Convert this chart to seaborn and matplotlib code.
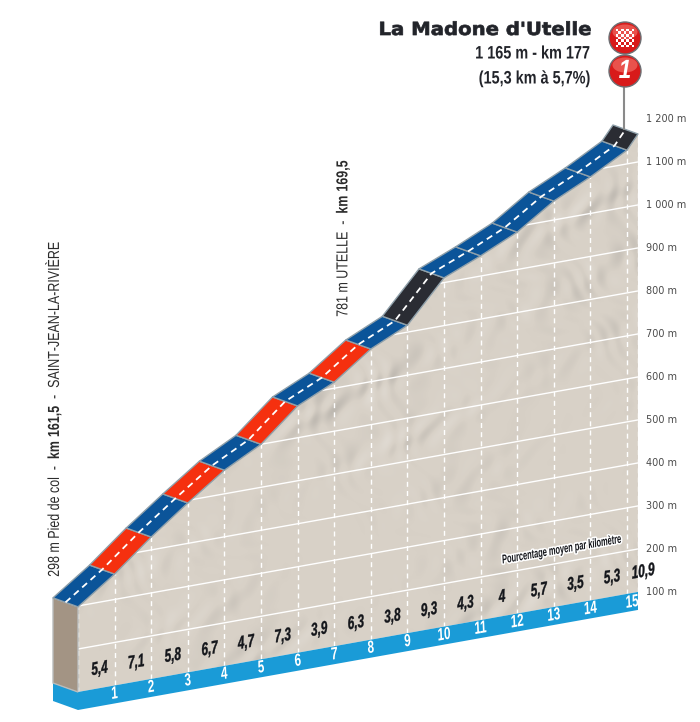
import numpy as np
import pandas as pd
import matplotlib
matplotlib.use("Agg")
import matplotlib.pyplot as plt
import matplotlib.patheffects as pe
from matplotlib.patches import Polygon, Circle, Rectangle, Ellipse
from matplotlib.transforms import Affine2D
import seaborn as sns

km_marks = [0, 1, 2, 3, 4, 5, 6, 7, 8, 9, 10, 11, 12, 13, 14, 15, 15.3]
altitudes = [298, 359, 430, 494, 555, 600, 674, 714, 776, 816, 911, 947, 987, 1044, 1085, 1132, 1165]
gradients = [5.4, 7.1, 5.8, 6.7, 4.7, 7.3, 3.9, 6.3, 3.8, 9.3, 4.3, 4, 5.7, 3.5, 5.3, 10.9]
gradient_labels = ["5,4", "7,1", "5,8", "6,7", "4,7", "7,3", "3,9", "6,3", "3,8", "9,3", "4,3", "4", "5,7", "3,5", "5,3", "10,9"]
km_labels = list(range(1, 16))
alt_ticks = [100, 200, 300, 400, 500, 600, 700, 800, 900, 1000, 1100, 1200]
alt_tick_labels = ["100 m", "200 m", "300 m", "400 m", "500 m", "600 m", "700 m", "800 m", "900 m", "1 000 m", "1 100 m", "1 200 m"]

SANS = "Liberation Sans"
ROAD_BLUE = "#0b5499"
ROAD_RED = "#f5300f"
ROAD_BLACK = "#2a2c33"
EDGE = "#8fa0aa"
TERRAIN = "#d8d1c7"
BAND = "#1a9bd7"
DARK = "#14161b"


class Squeeze(pe.AbstractPathEffect):
    # resserre le texte sur sa ligne de base (pas de police etroite installee)
    def __init__(self, sx, anchor="center", halo=0, bold=0, skew=0):
        super().__init__()
        self.sx = sx
        self.anchor = anchor
        self.halo = halo
        self.bold = bold
        self.skew = skew

    def draw_path(self, renderer, gc, tpath, affine, rgbFace=None):
        x0, _, x1, _ = tpath.get_extents().extents
        a = {"left": x0, "right": x1, "center": (x0 + x1) / 2}[self.anchor]
        aff = (Affine2D().translate(-a, 0).scale(self.sx, 1).translate(a, 0)
               + Affine2D.from_values(1, 0, self.skew, 1, 0, 0) + affine)
        if self.halo:
            gc0 = renderer.new_gc()
            gc0.copy_properties(gc)
            gc0.set_linewidth(self.halo)
            gc0.set_foreground("white")
            renderer.draw_path(gc0, tpath, aff, (1, 1, 1))
            gc0.restore()
        if self.bold:
            gc.set_linewidth(self.bold)
            gc.set_foreground(rgbFace)
        renderer.draw_path(gc, tpath, aff, rgbFace)


def project(km, alt, depth=0.0):
    # perspective cavaliere du profil, en pixels
    km = np.asarray(km, dtype=float)
    alt = np.asarray(alt, dtype=float)
    x = 78 + 36.6 * km - 25 * depth
    y = 692 - 6.54 * km - 0.43 * (alt - 100) - 9 * depth
    return x, y


def road_color(g):
    if g >= 9:
        return ROAD_BLACK
    if g >= 6:
        return ROAD_RED
    return ROAD_BLUE


sns.set_style("white")
plt.rcParams["mathtext.fontset"] = "custom"
plt.rcParams["mathtext.rm"] = SANS
plt.rcParams["mathtext.bf"] = SANS + ":bold"
fig = plt.figure(figsize=(7, 7.22), dpi=100)
ax = fig.add_axes([0, 0, 1, 1])

# terrain
tx, ty = project(km_marks + [15.3, 0], altitudes + [100, 100])
terrain = Polygon(np.column_stack([tx, ty]), closed=True, fc=TERRAIN, ec="none", zorder=1)
ax.add_patch(terrain)

# relief ombre (texture decorative)
gx, gy = np.meshgrid(np.arange(50, 650, 1.0), np.arange(100, 720, 1.0))
wx = gx + 21 * np.sin(gy / 37 + 1.3) + 9 * np.sin(gy / 11.3 + gx / 23)
wy = gy + 17 * np.sin(gx / 41 + 0.4) + 8 * np.sin(gx / 13.1 - gy / 29)
relief = (np.sin(wx / 33 + wy / 71) + 0.8 * np.sin(wx / 17.3 - wy / 27.1)
          + 0.5 * np.sin(wx / 7.7 + wy / 11.9) + 0.3 * np.sin(wx / 4.3 - wy / 6.1))
envelope = 0.5 + 0.5 * np.sin(gx / 83 + 0.7) * np.sin(gy / 59 - gx / 211)
shade = (np.gradient(relief, axis=1) + 0.5 * np.gradient(relief, axis=0)) * envelope
shade = np.clip(shade / np.abs(shade).max(), -1, 1)
rgba = np.zeros(gx.shape + (4,))
rgba[..., :3] = np.where(shade[..., None] > 0, 1.0, 0.4)
rgba[..., 3] = np.abs(shade) * 0.24
img = ax.imshow(rgba, extent=(50, 650, 720, 100), zorder=1.1, interpolation="bilinear", aspect="auto")
img.set_clip_path(terrain)

# lignes d'altitude
rows = []
for a in alt_ticks[1:-1]:
    start = np.interp(a, altitudes, km_marks) if a > altitudes[0] else 0
    for k in (start, 15.3):
        x, y = project(k, a)
        rows.append({"line": a, "x": float(x), "y": float(y)})
grid = pd.DataFrame(rows)
sns.lineplot(data=grid, x="x", y="y", units="line", estimator=None, sort=False,
             color="white", lw=1.0, ax=ax, legend=False, zorder=2)

# reperes kilometriques
rows = []
for k, a in zip(km_marks, altitudes):
    x0, y0 = project(k, 100)
    x1, y1 = project(k, a)
    rows.append({"line": k, "x": float(x0), "y": float(y0)})
    rows.append({"line": k, "x": float(x1), "y": float(y1)})
ticks = pd.DataFrame(rows)
sns.lineplot(data=ticks, x="x", y="y", units="line", estimator=None, sort=False,
             color="white", lw=1.0, linestyle=(0, (3.6, 3)), ax=ax, legend=False, zorder=2.1)

# bande bleue des km
bx0, by0 = project([0, 15.3], [100, 100])
band_pts = [(53, 683), (bx0[0], by0[0]), (bx0[1], by0[1]), (bx0[1], by0[1] + 18),
            (bx0[0], by0[0] + 18), (53, 701)]
ax.add_patch(Polygon(band_pts, closed=True, fc=BAND, ec="none", zorder=3))

# mur de gauche
lx, ly = project(0, altitudes[0])
wall = [(lx - 25, ly - 9), (lx, ly), (bx0[0], by0[0]), (53, 683)]
ax.add_patch(Polygon(wall, closed=True, fc="#a39484", ec="#b9bcbc", lw=1, zorder=3))

# route
for i, g in enumerate(gradients):
    fx, fy = project(km_marks[i:i + 2], altitudes[i:i + 2])
    rx, ry = project(km_marks[i:i + 2], altitudes[i:i + 2], depth=1)
    pts = [(fx[0], fy[0]), (fx[1], fy[1]), (rx[1], ry[1]), (rx[0], ry[0])]
    ax.add_patch(Polygon(pts, closed=True, fc=road_color(g), ec=EDGE, lw=1.0, joinstyle="round", zorder=4))

cx, cy = project(km_marks, altitudes, depth=0.5)
sns.lineplot(x=cx, y=cy, sort=False, estimator=None, color="white", lw=1.3,
             linestyle=(0, (3.6, 2.6)), ax=ax, legend=False, zorder=5)

# pourcentages par km
for i, lab in enumerate(gradient_labels):
    k = km_marks[i] + 0.55 if i < 15 else 15.4
    x, y = project(k, 100)
    ax.text(x + 1, y - 19, lab, family=SANS, weight="bold", style="italic", fontsize=13,
            color=DARK, rotation=10, ha="center", va="center", rotation_mode="anchor", zorder=6,
            path_effects=[Squeeze(0.66, bold=0.25, skew=0.1)])

# numeros de km
for k in km_labels:
    x, y = project(k, 100)
    ax.text(x + (5 if k == 15 else 0), y + 8.5, str(k), family=SANS, weight="bold", style="italic", fontsize=12.5,
            color="white", rotation=10, ha="center", va="center", rotation_mode="anchor", zorder=6,
            path_effects=[Squeeze(0.68)])

ax.text(562, 550, "Pourcentage moyen par kilomètre", family=SANS, weight="bold", style="italic",
        fontsize=9, color=DARK, rotation=10, ha="center", va="center", rotation_mode="anchor", zorder=6,
        path_effects=[Squeeze(0.6, halo=2.2)])

# altitudes a droite
for a, lab in zip(alt_ticks, alt_tick_labels):
    x, y = project(15.3, a)
    ax.text(646, float(y), lab, fontsize=7, color="#4a4a4a", ha="left", va="center", zorder=6)

# textes du col
ax.text(590, 30, "La Madone d'Utelle", family="DejaVu Sans", weight="bold", fontsize=13,
        color="#22242a", ha="right", va="center", path_effects=[Squeeze(1.09, "right", bold=0.5)])
ax.text(590, 54, "1 165 m - km 177", family=SANS, weight="bold", fontsize=13,
        color="#22242a", ha="right", va="center", path_effects=[Squeeze(0.8, "right")])
ax.text(590, 79, "(15,3 km à 5,7%)", family=SANS, weight="bold", fontsize=13,
        color="#22242a", ha="right", va="center", path_effects=[Squeeze(0.8, "right")])

# textes verticaux
ax.text(53, 577, r"298 m Pied de col  -  $\mathbf{km\ 161{,}5}$  -  SAINT-JEAN-LA-RIVIÈRE", family=SANS,
        fontsize=11.5, color="#2c2c2c", rotation=90, ha="center", va="bottom", zorder=6,
        path_effects=[Squeeze(0.78, "left")])
ax.text(343, 317, r"781 m UTELLE  -  $\mathbf{km\ 169{,}5}$", family=SANS,
        fontsize=11.5, color="#2c2c2c", rotation=90, ha="center", va="bottom", zorder=6,
        path_effects=[Squeeze(0.78, "left")])

# pastilles
px, py = project(15.3, altitudes[-1], depth=0.5)
sns.lineplot(x=[624, 624], y=[87, float(py)], sort=False, estimator=None, color="#8a8a8a", lw=1.5,
             ax=ax, legend=False, zorder=7)
for cy_badge in (38, 71):
    ax.add_patch(Circle((625, cy_badge), 16, fc="#d81a1a", ec="#6d6f73", lw=1, zorder=8))
    ax.add_patch(Ellipse((625, cy_badge - 6), 25, 15, fc="#f0655e", ec="none", alpha=0.75, zorder=8.1))
for i in range(7):
    for j in range(7):
        if (i + j) % 2 == 0:
            ax.add_patch(Rectangle((615.5 + i * 2.7, 28.5 + j * 2.7), 2.7, 2.7, fc="white", ec="none", zorder=8.2))
ax.text(625, 71, "1", family=SANS, weight="bold", style="italic", fontsize=19, color="white",
        ha="center", va="center", zorder=8.3, path_effects=[Squeeze(0.85)])

ax.set_xlim(0, 700)
ax.set_ylim(722, 0)
ax.axis("off")
fig.savefig("out.png", dpi=100)
